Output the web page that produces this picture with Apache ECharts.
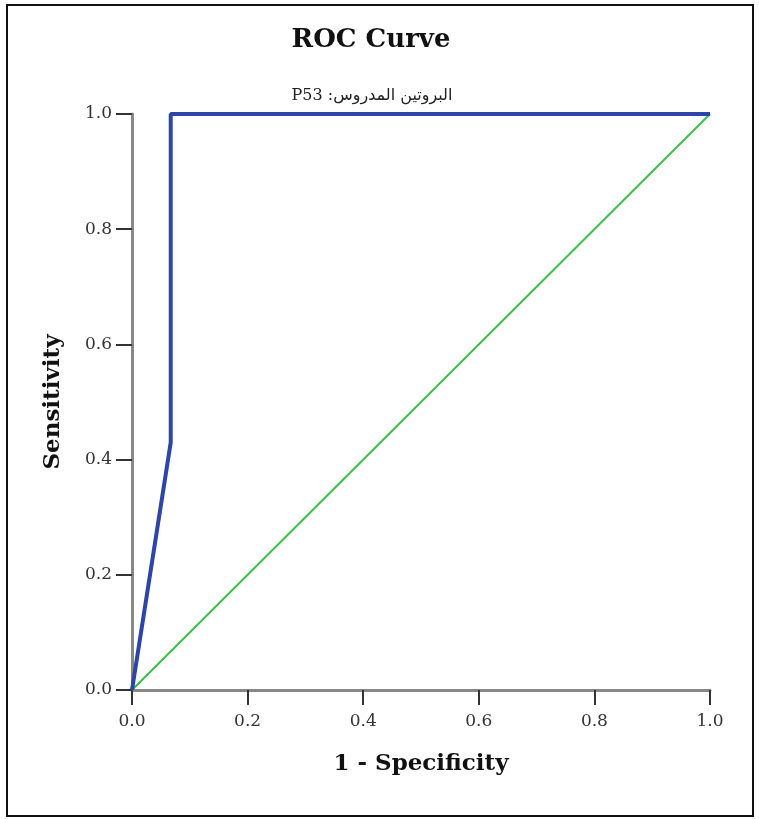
<!DOCTYPE html>
<html>
<head>
<meta charset="utf-8">
<script src="https://cdn.jsdelivr.net/npm/echarts@6/dist/echarts.min.js"></script>
<style>
  html, body { margin: 0; padding: 0; background: #fff; }
  #chart { width: 759px; height: 819px; }
</style>
</head>
<body>
<div id="chart"></div>
<script>
// ROC points
let rocX = [0, 0.067, 0.067, 1];
let rocY = [0, 0.43, 1, 1];
let refX = [0, 1];
let refY = [0, 1];

let serif = '"DejaVu Serif", "Liberation Serif", serif';

let chart = echarts.init(document.getElementById('chart'));

function pairs(xs, ys) {
    return xs.map((x, i) => [x, ys[i]]);
}

let option = {
    animation: false,
    backgroundColor: '#fff',
    title: [{
        text: 'ROC Curve',
        left: 366,
        top: 22,
        textAlign: 'center',
        textStyle: { fontFamily: serif, fontSize: 26, fontWeight: 'bold', color: '#111' }
    }, {
        // LTR canvas: put P53 first so it lands on the left like the original
        text: 'P53 :البروتين المدروس',
        left: 367,
        top: 83,
        textAlign: 'center',
        textStyle: { fontFamily: '"DejaVu Serif", "DejaVu Sans", sans-serif', fontSize: 16, fontWeight: 'normal', color: '#222' }
    }],
    graphic: [{
        type: 'rect',
        shape: { x: 7, y: 5, width: 746, height: 811 },
        style: { fill: 'none', stroke: '#111', lineWidth: 2 },
        silent: true
    }],
    grid: { left: 132, right: 49, top: 114, bottom: 129 },
    xAxis: [{
        type: 'value',
        min: 0, max: 1, interval: 0.2,
        name: '1 - Specificity',
        nameLocation: 'middle',
        nameGap: 63,
        nameTextStyle: { fontFamily: serif, fontSize: 23, fontWeight: 'bold', color: '#111' },
        axisLine: { show: true, lineStyle: { color: '#888', width: 3 } },
        axisTick: { show: true, length: 15, lineStyle: { color: '#333', width: 2 } },
        axisLabel: {
            fontFamily: serif, fontSize: 17, color: '#333', margin: 23,
            formatter: v => v.toFixed(1)
        },
        splitLine: { show: false }
    }, {
        type: 'value', position: 'top',
        min: 0, max: 1,
        axisLine: { show: true, lineStyle: { color: '#888', width: 2 } },
        axisTick: { show: false }, axisLabel: { show: false }, splitLine: { show: false }
    }],
    yAxis: [{
        type: 'value',
        min: 0, max: 1, interval: 0.2,
        name: 'Sensitivity',
        nameLocation: 'middle',
        nameGap: 67,
        nameTextStyle: { fontFamily: serif, fontSize: 23, fontWeight: 'bold', color: '#111' },
        axisLine: { show: true, lineStyle: { color: '#555', width: 2 } },
        axisTick: { show: true, length: 16, lineStyle: { color: '#333', width: 2 } },
        axisLabel: {
            fontFamily: serif, fontSize: 17, color: '#333', margin: 20,
            formatter: v => v.toFixed(1)
        },
        splitLine: { show: false }
    }, {
        type: 'value', position: 'right',
        min: 0, max: 1,
        axisLine: { show: true, lineStyle: { color: '#888', width: 3 } },
        axisTick: { show: false }, axisLabel: { show: false }, splitLine: { show: false }
    }],
    series: [{
        name: 'Reference',
        type: 'line',
        data: pairs(refX, refY),
        showSymbol: false,
        lineStyle: { color: '#3dbf4a', width: 2 },
        z: 2
    }, {
        name: 'P53',
        type: 'line',
        data: pairs(rocX, rocY),
        showSymbol: false,
        lineStyle: { color: '#2d45a6', width: 4 },
        z: 3
    }]
};

chart.setOption(option, true);
window.onresize = () => { chart.resize(); };
</script>
</body>
</html>
